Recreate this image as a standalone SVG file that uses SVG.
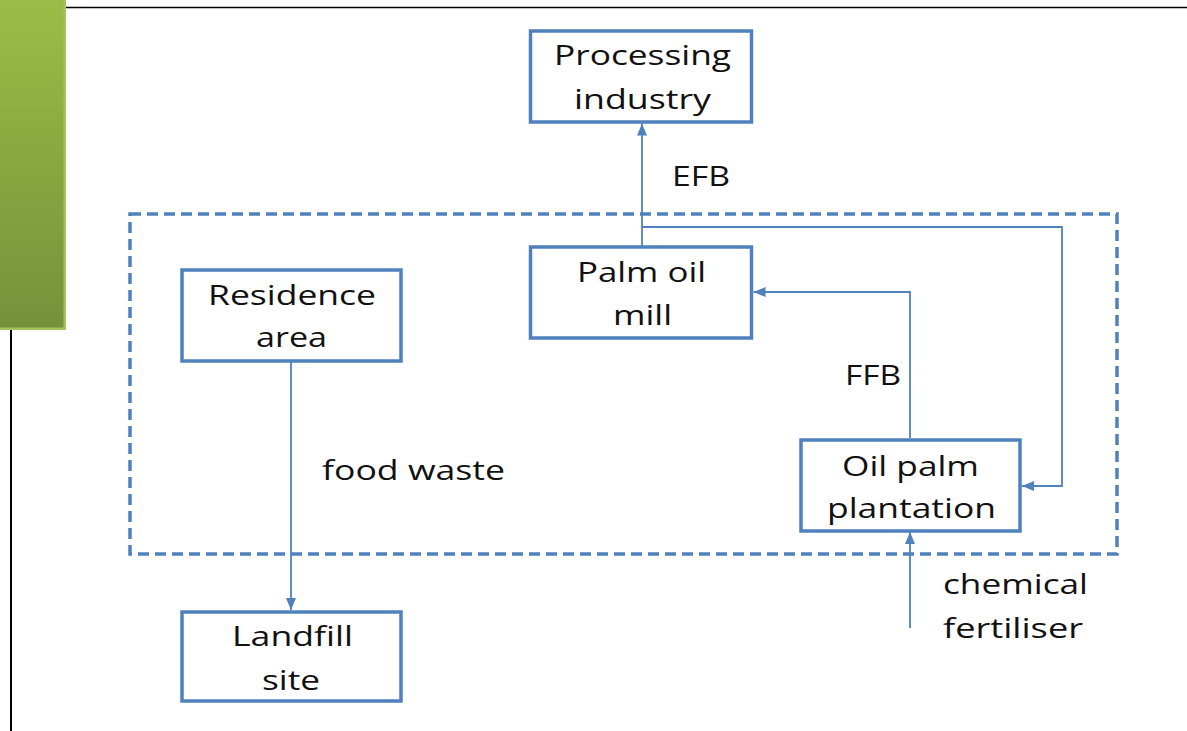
<svg xmlns="http://www.w3.org/2000/svg" width="1187" height="731" viewBox="0 0 1187 731">
<defs>
<linearGradient id="green" x1="0" y1="0" x2="0" y2="1">
<stop offset="0" stop-color="#9bbd47"/>
<stop offset="1" stop-color="#75923a"/>
</linearGradient>
<marker id="arr" markerUnits="userSpaceOnUse" markerWidth="12" markerHeight="12" viewBox="0 0 12 12" refX="12" refY="6" orient="auto">
<path d="M0,1 L12,6 L0,11 Z" fill="#4f81bd"/>
</marker>
<style>
.box{fill:#fff;stroke:#4f81bd;stroke-width:3.5}
.conn{fill:none;stroke:#4f81bd;stroke-width:1.8}
.lbl{font-family:"Open Sans","Noto Sans",sans-serif;font-size:28px;fill:#111}
.dash{fill:none;stroke:#4f81bd;stroke-width:3.5;stroke-dasharray:11 6}
</style>
</defs>
<rect width="1187" height="731" fill="#fff"/>
<g id="frame">
<rect x="0" y="0" width="66" height="330" fill="url(#green)"/>
<rect x="63.5" y="0" width="2.5" height="330" fill="#a4c45a"/>
<rect x="0" y="327.5" width="66" height="2.5" fill="#a4c45a"/>
<line x1="66" y1="7.5" x2="1187" y2="7.5" stroke="#000" stroke-width="1.5"/>
<line x1="11" y1="330" x2="11" y2="731" stroke="#000" stroke-width="2"/>
</g>
<g id="boundary">
<rect class="dash" x="130" y="214" width="987" height="340"/>
</g>
<g id="connectors">
<line class="conn" x1="642" y1="246" x2="642" y2="123.5" marker-end="url(#arr)"/>
<polyline class="conn" points="642,227 1062,227 1062,486 1022,486" marker-end="url(#arr)"/>
<polyline class="conn" points="910,438 910,292 753.5,292" marker-end="url(#arr)"/>
<line class="conn" x1="291" y1="362" x2="291" y2="610" marker-end="url(#arr)"/>
<line class="conn" x1="910" y1="628" x2="910" y2="532" marker-end="url(#arr)"/>
</g>
<g id="processing">
<rect class="box" x="530.5" y="31" width="221" height="91"/>
<text class="lbl" x="554" y="65" textLength="177" lengthAdjust="spacingAndGlyphs">Processing</text>
<text class="lbl" x="574" y="109" textLength="137" lengthAdjust="spacingAndGlyphs">industry</text>
</g>
<g id="mill">
<rect class="box" x="530.5" y="247" width="221" height="91"/>
<text class="lbl" x="577" y="282" textLength="129" lengthAdjust="spacingAndGlyphs">Palm oil</text>
<text class="lbl" x="613" y="325" textLength="59" lengthAdjust="spacingAndGlyphs">mill</text>
</g>
<g id="residence">
<rect class="box" x="182" y="270" width="219" height="91"/>
<text class="lbl" x="208" y="305" textLength="168" lengthAdjust="spacingAndGlyphs">Residence</text>
<text class="lbl" x="256" y="347" textLength="71" lengthAdjust="spacingAndGlyphs">area</text>
</g>
<g id="landfill">
<rect class="box" x="182" y="612" width="219" height="89"/>
<text class="lbl" x="232" y="646" textLength="121" lengthAdjust="spacingAndGlyphs">Landfill</text>
<text class="lbl" x="262" y="690" textLength="58" lengthAdjust="spacingAndGlyphs">site</text>
</g>
<g id="plantation">
<rect class="box" x="801" y="440" width="219" height="91"/>
<text class="lbl" x="842" y="476" textLength="137" lengthAdjust="spacingAndGlyphs">Oil palm</text>
<text class="lbl" x="827" y="518" textLength="169" lengthAdjust="spacingAndGlyphs">plantation</text>
</g>
<g id="labels">
<text class="lbl" x="672" y="186" textLength="58" lengthAdjust="spacingAndGlyphs">EFB</text>
<text class="lbl" x="845" y="385" textLength="56" lengthAdjust="spacingAndGlyphs">FFB</text>
<text class="lbl" x="322" y="480" textLength="183" lengthAdjust="spacingAndGlyphs">food waste</text>
<text class="lbl" x="943" y="594" textLength="145" lengthAdjust="spacingAndGlyphs">chemical</text>
<text class="lbl" x="943" y="638" textLength="140" lengthAdjust="spacingAndGlyphs">fertiliser</text>
</g>
</svg>
